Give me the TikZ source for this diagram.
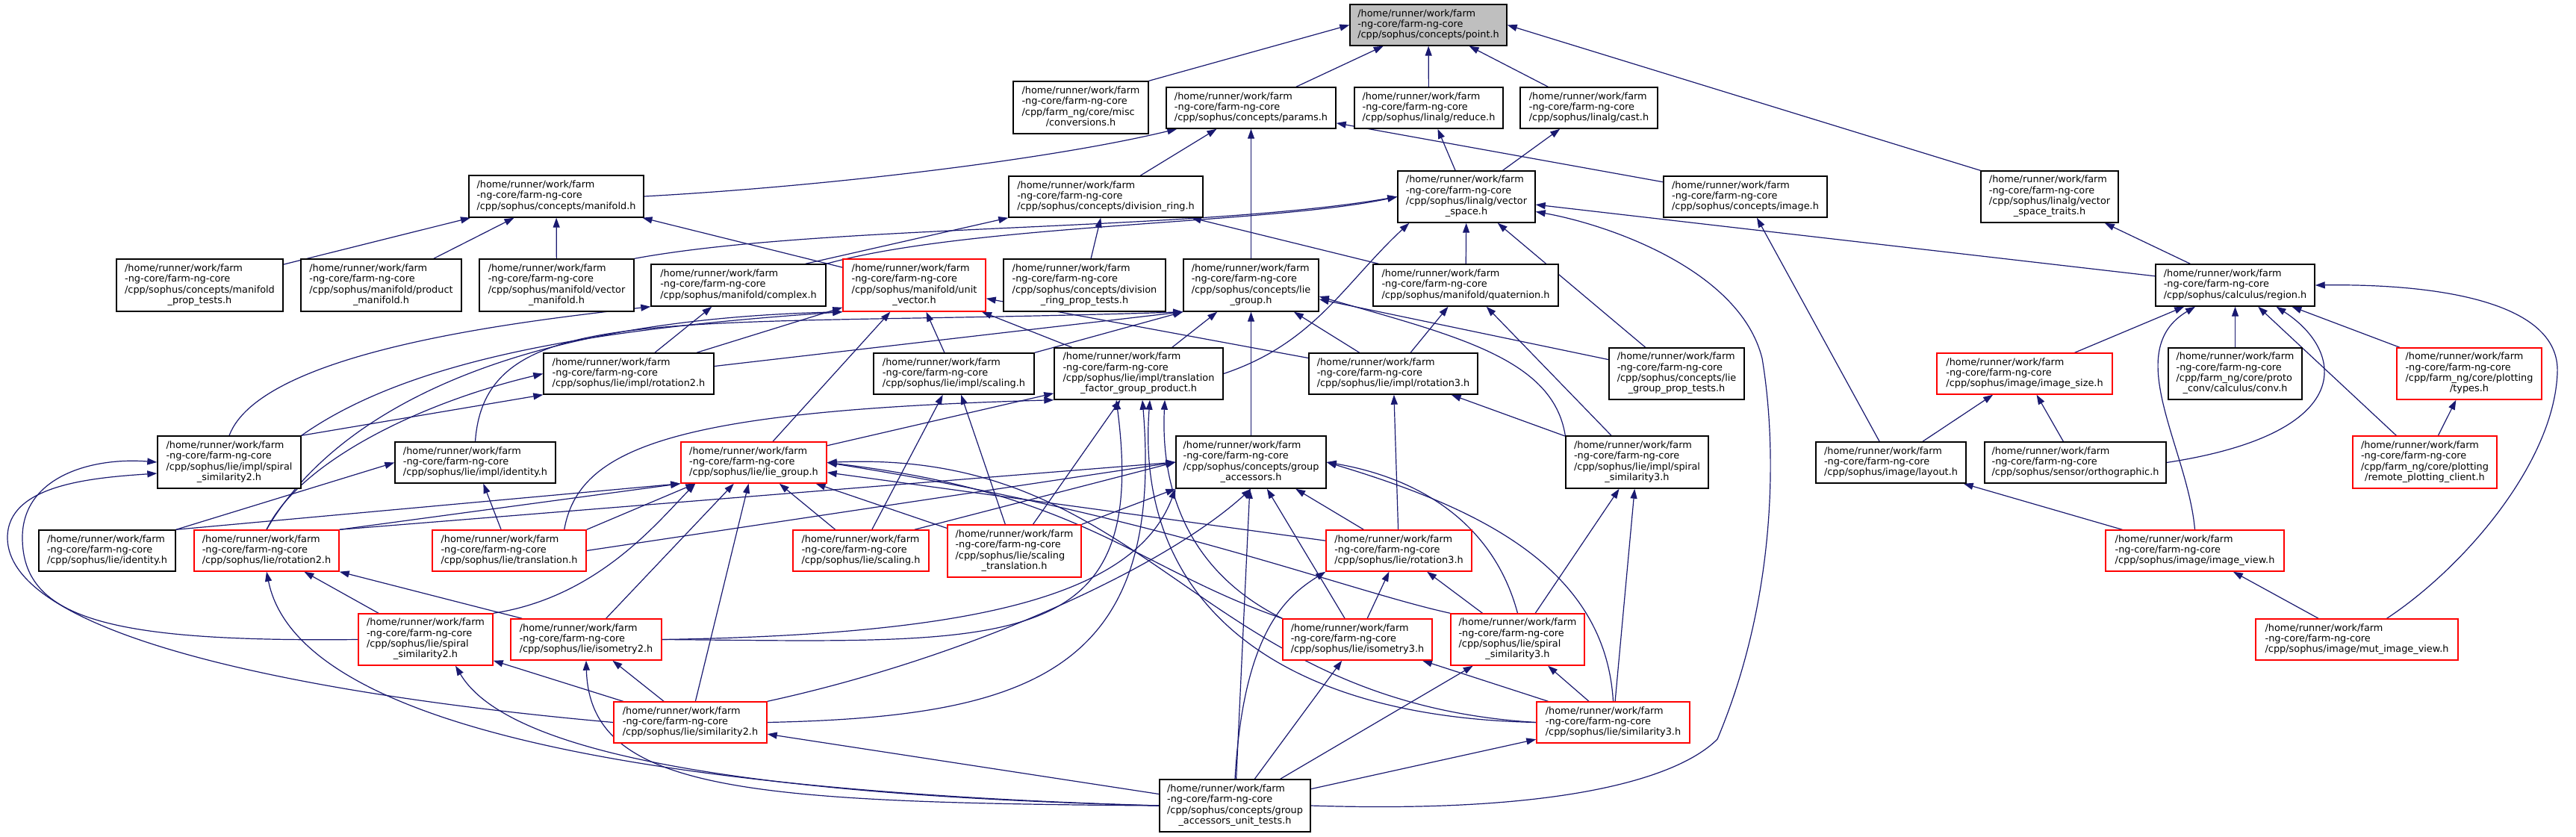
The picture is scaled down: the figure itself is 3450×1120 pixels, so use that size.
\documentclass[tikz,border=0pt]{standalone}
\usepackage{fontspec}
\setmainfont{DejaVu Sans}
\usetikzlibrary{arrows.meta}
\definecolor{edgeblue}{HTML}{191970}
\pgfdeclarelayer{bottom}
\pgfdeclarelayer{edges}
\pgfsetlayers{bottom,edges,main}
\newcommand{\lblfont}{\fontsize{12.86pt}{14.3pt}\selectfont}
\newcommand{\Lthree}[1]{\begin{tabular}{@{}l@{}}/home/runner/work/farm\\-ng-core/farm-ng-core\\\multicolumn{1}{@{}c@{}}{#1}\end{tabular}}
\newcommand{\Lfour}[2]{\begin{tabular}{@{}l@{}}/home/runner/work/farm\\-ng-core/farm-ng-core\\#1\\\multicolumn{1}{@{}c@{}}{#2}\end{tabular}}
\newcommand{\nd}[6]{\node[#1,minimum width=#5pt,minimum height=#6pt] (#2) at (#3,#4)}
\begin{document}
\begin{tikzpicture}[x=1pt,y=-1pt,
  nb/.style={draw=black,fill=white,line width=1.4pt,inner sep=0pt,font=\lblfont},
  nr/.style={nb,draw=red},
  root/.style={nb,fill=black!25},
  dep/.style={draw=edgeblue,line width=1.2pt,-{Triangle[length=13pt,width=9pt]}}]
\useasboundingbox (0,0) rectangle (3450,1120);
\begin{pgfonlayer}{bottom}
\fill[white] (0,0) rectangle (3450,1120);
\end{pgfonlayer}
% ---------------- nodes ----------------
\nd{root}{point}{1913}{33.5}{210}{55}{\Lthree{/cpp/sophus/concepts/point.h}};
\nd{nb}{conv}{1447.5}{144}{181}{70}{\Lfour{/cpp/farm\_ng/core/misc}{/conversions.h}};
\nd{nb}{params}{1675.5}{144.5}{227}{55}{\Lthree{/cpp/sophus/concepts/params.h}};
\nd{nb}{reduce}{1913.5}{144.5}{199}{55}{\Lthree{/cpp/sophus/linalg/reduce.h}};
\nd{nb}{cast}{2128}{144.5}{184}{55}{\Lthree{/cpp/sophus/linalg/cast.h}};
\nd{nb}{vst}{2745}{263.5}{184}{69}{\Lfour{/cpp/sophus/linalg/vector}{\_space\_traits.h}};
\nd{nb}{manifold}{745}{263}{234}{56}{\Lthree{/cpp/sophus/concepts/manifold.h}};
\nd{nb}{divring}{1481}{263.5}{260}{55}{\Lthree{/cpp/sophus/concepts/division\_ring.h}};
\nd{nb}{vspace}{1964}{263.5}{184}{69}{\Lfour{/cpp/sophus/linalg/vector}{\_space.h}};
\nd{nb}{image}{2337.5}{263.5}{219}{55}{\Lthree{/cpp/sophus/concepts/image.h}};
\nd{nb}{mpt}{267.5}{382}{223}{70}{\Lfour{/cpp/sophus/concepts/manifold}{\_prop\_tests.h}};
\nd{nb}{prodman}{510.5}{382}{215}{70}{\Lfour{/cpp/sophus/manifold/product}{\_manifold.h}};
\nd{nb}{vecman}{745.5}{382}{207}{70}{\Lfour{/cpp/sophus/manifold/vector}{\_manifold.h}};
\nd{nb}{complex}{989}{382}{234}{56}{\Lthree{/cpp/sophus/manifold/complex.h}};
\nd{nr}{unitvec}{1224.5}{382}{191}{70}{\Lfour{/cpp/sophus/manifold/unit}{\_vector.h}};
\nd{nb}{drpt}{1452.5}{382}{217}{70}{\Lfour{/cpp/sophus/concepts/division}{\_ring\_prop\_tests.h}};
\nd{nb}{clg}{1675.5}{382}{181}{70}{\Lfour{/cpp/sophus/concepts/lie}{\_group.h}};
\nd{nb}{quat}{1963}{382}{248}{56}{\Lthree{/cpp/sophus/manifold/quaternion.h}};
\nd{nb}{region}{2993.5}{382}{213}{56}{\Lthree{/cpp/sophus/calculus/region.h}};
\nd{nb}{rot2impl}{842}{500.5}{228}{55}{\Lthree{/cpp/sophus/lie/impl/rotation2.h}};
\nd{nb}{scaleimpl}{1277.5}{500.5}{215}{55}{\Lthree{/cpp/sophus/lie/impl/scaling.h}};
\nd{nb}{tfgp}{1525}{500.5}{226}{69}{\Lfour{/cpp/sophus/lie/impl/translation}{\_factor\_group\_product.h}};
\nd{nb}{rot3impl}{1866}{500.5}{226}{55}{\Lthree{/cpp/sophus/lie/impl/rotation3.h}};
\nd{nb}{lgpt}{2245.5}{500.5}{181}{69}{\Lfour{/cpp/sophus/concepts/lie}{\_group\_prop\_tests.h}};
\nd{nr}{imsize}{2711.5}{500.5}{235}{55}{\Lthree{/cpp/sophus/image/image\_size.h}};
\nd{nb}{protoconv}{2993.5}{500.5}{179}{69}{\Lfour{/cpp/farm\_ng/core/proto}{\_conv/calculus/conv.h}};
\nd{nr}{types}{3307}{500.5}{194}{69}{\Lfour{/cpp/farm\_ng/core/plotting}{/types.h}};
\nd{nb}{sp2impl}{307}{619}{192}{70}{\Lfour{/cpp/sophus/lie/impl/spiral}{\_similarity2.h}};
\nd{nb}{idimpl}{636.5}{619.5}{215}{55}{\Lthree{/cpp/sophus/lie/impl/identity.h}};
\nd{nr}{lg}{1009.5}{619.5}{195}{55}{\Lthree{/cpp/sophus/lie/lie\_group.h}};
\nd{nb}{ga}{1675.5}{619}{201}{70}{\Lfour{/cpp/sophus/concepts/group}{\_accessors.h}};
\nd{nb}{sp3impl}{2192.5}{619}{191}{70}{\Lfour{/cpp/sophus/lie/impl/spiral}{\_similarity3.h}};
\nd{nb}{layout}{2532.5}{619.5}{201}{55}{\Lthree{/cpp/sophus/image/layout.h}};
\nd{nb}{ortho}{2779.5}{619.5}{243}{55}{\Lthree{/cpp/sophus/sensor/orthographic.h}};
\nd{nr}{remote}{3247.5}{619}{193}{70}{\Lfour{/cpp/farm\_ng/core/plotting}{/remote\_plotting\_client.h}};
\nd{nb}{lid}{143.5}{737.5}{183}{55}{\Lthree{/cpp/sophus/lie/identity.h}};
\nd{nr}{lrot2}{357}{737.5}{194}{55}{\Lthree{/cpp/sophus/lie/rotation2.h}};
\nd{nr}{ltrans}{682}{737.5}{206}{55}{\Lthree{/cpp/sophus/lie/translation.h}};
\nd{nr}{lscale}{1153}{737.5}{182}{55}{\Lthree{/cpp/sophus/lie/scaling.h}};
\nd{nr}{lscaletr}{1358.5}{738}{179}{70}{\Lfour{/cpp/sophus/lie/scaling}{\_translation.h}};
\nd{nr}{lrot3}{1873.5}{737.5}{195}{55}{\Lthree{/cpp/sophus/lie/rotation3.h}};
\nd{nr}{imview}{2939.5}{737.5}{239}{55}{\Lthree{/cpp/sophus/image/image\_view.h}};
\nd{nr}{lspsim2}{570}{856.5}{180}{69}{\Lfour{/cpp/sophus/lie/spiral}{\_similarity2.h}};
\nd{nr}{liso2}{785}{856.5}{202}{55}{\Lthree{/cpp/sophus/lie/isometry2.h}};
\nd{nr}{liso3}{1818}{856.5}{200}{55}{\Lthree{/cpp/sophus/lie/isometry3.h}};
\nd{nr}{lspsim3}{2032.5}{856.5}{179}{69}{\Lfour{/cpp/sophus/lie/spiral}{\_similarity3.h}};
\nd{nr}{mutimview}{3156.5}{856.5}{271}{55}{\Lthree{/cpp/sophus/image/mut\_image\_view.h}};
\nd{nr}{lsim2}{924.5}{967.5}{205}{55}{\Lthree{/cpp/sophus/lie/similarity2.h}};
\nd{nr}{lsim3}{2160.5}{967.5}{205}{55}{\Lthree{/cpp/sophus/lie/similarity3.h}};
\nd{nb}{gaut}{1654}{1079}{202}{70}{\Lfour{/cpp/sophus/concepts/group}{\_accessors\_unit\_tests.h}};
% ---------------- edges ----------------
\begin{pgfonlayer}{edges}
% top part
\draw[dep] (conv.north east) -- (point.west);
\draw[dep] (params) -- (point);
\draw[dep] (reduce) -- (point);
\draw[dep] (cast) -- (point);
\draw[dep] (vst.north west) -- (point.east);
\draw[dep] (manifold.east) .. controls (1100,250) and (1400,215) .. ([xshift=15pt]params.south west);
\draw[dep] (divring) -- (params);
\draw[dep] (clg) -- (params);
\draw[dep] (image) -- (params);
\draw[dep] (vspace) -- (reduce);
\draw[dep] (vspace) -- (cast);
\draw[dep] (mpt) -- (manifold);
\draw[dep] (prodman) -- (manifold);
\draw[dep] (vecman) -- (manifold);
\draw[dep] (unitvec) -- (manifold);
\draw[dep] ([xshift=-28pt]complex.north east) -- (divring.south west);
\draw[dep] (drpt) -- (divring);
\draw[dep] (quat) -- (divring);
\draw[dep] (vecman.north east) .. controls (1100,300) and (1600,310) .. (vspace.west);
\draw[dep] (complex.north east) .. controls (1300,300) and (1700,300) .. (vspace.west);
\draw[dep] (tfgp.east) .. controls (1760,460) and (1800,380) .. ([xshift=16pt]vspace.south west);
\draw[dep] (quat) -- (vspace);
\draw[dep] (lgpt) -- (vspace);
\draw[dep] (region) -- (vspace);
\draw[dep] (gaut.east) .. controls (2100,1090) and (2250,1040) .. (2300,990) .. controls (2380,800) and (2380,600) .. (2360,480) .. controls (2330,360) and (2150,300) .. ([yshift=-20pt]vspace.east);
\draw[dep] (layout) -- (image);
\draw[dep] (region) -- (vst);
\draw[dep] (lgpt) -- (clg);
\draw[dep] (imsize) -- (region);
\draw[dep] (imview.north) .. controls (2930,600) and (2840,470) .. ([xshift=-53.5pt]region.south);
\draw[dep] (protoconv) -- (region);
\draw[dep] (ortho.east) .. controls (3160,580) and (3140,470) .. ([xshift=55pt]region.south);
\draw[dep] (remote) -- (region);
\draw[dep] (types) -- (region);
\draw[dep] ([xshift=40pt]mutimview.north) .. controls (3300,760) and (3420,620) .. (3425,500) .. controls (3430,400) and (3250,380) .. (region.east);
\draw[dep] (layout) -- (imsize);
\draw[dep] (ortho) -- (imsize);
\draw[dep] (remote) -- (types);
\draw[dep] (imview) -- (layout);
\draw[dep] (mutimview) -- (imview);
% impl part
\draw[dep] (rot2impl) -- (complex);
\draw[dep] (rot2impl) -- (unitvec);
\draw[dep] ([yshift=10pt]rot2impl.east) -- (clg.south west);
\draw[dep] (sp2impl.north) .. controls (350,470) and (700,430) .. (complex.south west);
\draw[dep] (sp2impl.north east) -- (rot2impl.south west);
\draw[dep] (sp2impl.north east) .. controls (550,480) and (800,440) .. (unitvec.south west);
\draw[dep] (idimpl.north) .. controls (650,400) and (900,440) .. (clg.south west);
\draw[dep] (scaleimpl) -- (unitvec);
\draw[dep] (scaleimpl.north east) -- (clg.south west);
\draw[dep] (tfgp) -- (unitvec);
\draw[dep] (tfgp) -- (clg);
\draw[dep] (rot3impl) -- (quat);
\draw[dep] (rot3impl) -- (clg);
\draw[dep] (rot3impl) -- (unitvec);
\draw[dep] (sp3impl) -- (quat);
\draw[dep] (sp3impl) -- (rot3impl);
\draw[dep] (sp3impl.north west) .. controls (2080,480) and (1950,450) .. ([yshift=-15pt]clg.east);
\draw[dep] (ga) -- (clg);
\draw[dep] (lg) -- (unitvec);
\draw[dep] (lg) -- (tfgp);
% lie part
\draw[dep] (lid.north east) -- (idimpl.west);
\draw[dep] (lid.north east) -- (lg.south west);
\draw[dep] (lrot2.north) .. controls (400,620) and (560,540) .. (rot2impl.west);
\draw[dep] (lrot2.north) .. controls (420,600) and (600,430) .. (unitvec.south west);
\draw[dep] (lrot2.north east) -- (lg.south west);
\draw[dep] (lrot2.north east) -- (ga.west);
\draw[dep] (ltrans) -- (idimpl);
\draw[dep] ([xshift=-30pt]ltrans.north east) .. controls (775,600) and (900,550) .. (tfgp.south west);
\draw[dep] (ltrans.north east) -- ([xshift=20pt]lg.south west);
\draw[dep] (ltrans.east) -- (ga.west);
\draw[dep] (lscale) -- (scaleimpl);
\draw[dep] (lscale) -- (lg);
\draw[dep] ([xshift=-20pt]lscale.north east) -- (ga.west);
\draw[dep] (lscaletr) -- (scaleimpl);
\draw[dep] (lscaletr) -- (tfgp);
\draw[dep] (lscaletr) -- (lg);
\draw[dep] (lscaletr.north east) -- (ga.south west);
\draw[dep] (lrot3) -- (rot3impl);
\draw[dep] (lrot3) -- (lg);
\draw[dep] (lrot3) -- (ga);
\draw[dep] (lspsim2.west) .. controls (150,860) and (30,830) .. (30,720) .. controls (30,640) and (120,612) .. (sp2impl.west);
\draw[dep] (lsim2.west) .. controls (400,930) and (10,850) .. (10,720) .. controls (10,650) and (120,640) .. ([yshift=-15pt]sp2impl.west);
\draw[dep] (lspsim2) -- (lrot2);
\draw[dep] (lspsim2.north east) .. controls (800,800) and (880,700) .. ([xshift=20pt]lg.south west);
\draw[dep] ([xshift=16pt]liso2.north west) -- (lrot2.south east);
\draw[dep] (liso2) -- (lg);
\draw[dep] (liso2.east) .. controls (1350,860) and (1540,880) .. ([xshift=-30pt]tfgp.south);
\draw[dep] (liso2.east) .. controls (1300,850) and (1520,800) .. (ga.south west);
\draw[dep] (lsim2) -- (lspsim2);
\draw[dep] (lsim2) -- (liso2);
\draw[dep] (lsim2) -- (lg);
\draw[dep] (lsim2.east) .. controls (1380,960) and (1560,900) .. ([xshift=5pt]tfgp.south);
\draw[dep] (lsim2.north east) .. controls (1300,880) and (1560,760) .. (ga.south);
\draw[dep] (liso3) -- (lrot3);
\draw[dep] (liso3.north west) .. controls (1580,760) and (1555,640) .. ([xshift=35pt]tfgp.south);
\draw[dep] (liso3.north west) .. controls (1520,760) and (1450,660) .. (lg.east);
\draw[dep] (liso3) -- (ga);
\draw[dep] (lspsim3) -- (sp3impl);
\draw[dep] (lspsim3) -- (lrot3);
\draw[dep] (lspsim3.north west) .. controls (1800,790) and (1550,690) .. (lg.east);
\draw[dep] (lspsim3.north) .. controls (2000,700) and (1900,640) .. (ga.east);
\draw[dep] (lsim3) -- (lspsim3);
\draw[dep] (lsim3) -- (liso3);
\draw[dep] (lsim3) -- (sp3impl);
\draw[dep] (lsim3.west) .. controls (1700,960) and (1520,800) .. ([xshift=15pt]tfgp.south);
\draw[dep] (lsim3.west) .. controls (1600,940) and (1540,600) .. (lg.east);
\draw[dep] (lsim3.north) .. controls (2150,760) and (1980,680) .. (ga.east);
% unit tests
\draw[dep] (gaut) -- (ga);
\draw[dep] (gaut) -- (liso3);
\draw[dep] (gaut) -- (lspsim3);
\draw[dep] (gaut) -- (lsim3);
\draw[dep] (gaut.north) .. controls (1665,850) and (1720,800) .. (lrot3.south west);
\draw[dep] (gaut) -- (lsim2);
\draw[dep] (gaut.west) .. controls (1000,1065) and (680,1010) .. ([xshift=40pt]lspsim2.south);
\draw[dep] (gaut.west) .. controls (1000,1075) and (790,1060) .. (liso2.south);
\draw[dep] (gaut.west) .. controls (900,1060) and (400,980) .. (lrot2.south);
\end{pgfonlayer}
\end{tikzpicture}
\end{document}
